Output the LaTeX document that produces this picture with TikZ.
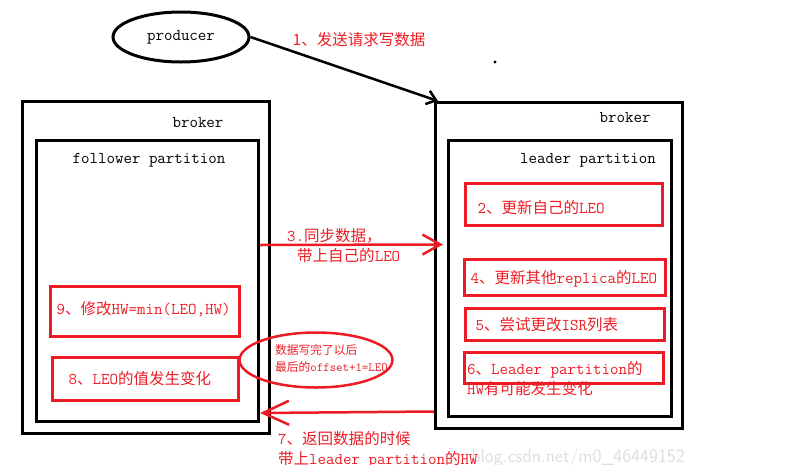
\documentclass[tikz,border=0pt]{standalone}
\usepackage{fontspec}
\newfontfamily\cjk[Scale=0.94]{Noto Sans CJK SC}
\usetikzlibrary{shapes.geometric,arrows.meta}
\definecolor{pred}{RGB}{237,28,36}
\newcommand{\zh}[1]{{\cjk #1}}
\tikzset{
	kuro/.style={draw, line width=3pt, inner sep=0pt},
	aka/.style={draw=pred, line width=3pt, inner sep=0pt},
	moji/.style={font=\ttfamily\fontsize{16.5}{20}\selectfont},
	akamoji/.style={moji, text=pred},
	yaji/.style={draw=pred, line width=2.5pt},
}

\begin{document}
\begin{tikzpicture}[x=1pt, y=-1pt]
\useasboundingbox (0, 0) rectangle (795, 464);
% 透かし
	\node[text=black!13, font=\sffamily\fontsize{19}{20}\selectfont, anchor=west] (wm) at (468, 458) {blog.csdn.net/m0\_46449152};
% producer
	\node[kuro, ellipse, moji, minimum width=136pt, minimum height=50pt] (prod) at (181, 37) {producer};
	\node[akamoji] (l1) at (359, 40) {\zh{1、发送请求写数据}};
	\fill (495, 62) circle (1.6pt);
% 左 broker
	\node[kuro, minimum width=247pt, minimum height=332pt, anchor=north west] (lbroker) at (21, 100) {};
	\node[moji] (lbname) at (198, 123) {broker};
	\node[kuro, minimum width=222pt, minimum height=281pt, anchor=north west] (lpart) at (35, 139) {};
	\node[moji] (lpname) at (149, 160) {follower partition};
	\node[aka, minimum width=189pt, minimum height=50pt, anchor=north west] (b9) at (49, 285) {};
	\node[akamoji, anchor=west] (t9) at ([xshift=4pt, yshift=2pt]b9.west) {9\zh{、修改}HW=min(LEO,HW)};
	\node[aka, minimum width=186pt, minimum height=43pt, anchor=north west] (b8) at (51, 356) {};
	\node[akamoji, anchor=west] (t8) at ([xshift=14pt]b8.west) {8\zh{、}LEO\zh{的值发生变化}};
% 右 broker
	\node[kuro, minimum width=247pt, minimum height=326pt, anchor=north west] (rbroker) at (434, 101) {};
	\node[moji] (rbname) at (625, 118) {broker};
	\node[kuro, minimum width=223pt, minimum height=276pt, anchor=north west] (rpart) at (447, 139) {};
	\node[moji] (rpname) at (588, 160) {leader partition};
	\node[aka, minimum width=197pt, minimum height=42pt, anchor=north west] (b2) at (464, 182) {};
	\node[akamoji, anchor=west] (t2) at ([xshift=10pt, yshift=-3pt]b2.west) {2\zh{、更新自己的}LEO};
	\node[aka, minimum width=201pt, minimum height=36pt, anchor=north west] (b4) at (463, 258) {};
	\node[akamoji, anchor=west] (t4) at ([xshift=4pt, yshift=-1pt]b4.west) {4\zh{、更新其他}replica\zh{的}LEO};
	\node[aka, minimum width=199pt, minimum height=32pt, anchor=north west] (b5) at (464, 307) {};
	\node[akamoji, anchor=west] (t5) at ([xshift=8pt]b5.west) {5\zh{、尝试更改}ISR\zh{列表}};
	\node[aka, minimum width=199pt, minimum height=31pt, anchor=north west] (b6) at (463, 351) {};
	\node[akamoji, anchor=north west, align=left, inner sep=0pt] (t6) at (467, 361) {6\zh{、}Leader partition\zh{的}\\HW\zh{有可能发生变化}};
% メモ
	\node[draw=pred, line width=2.5pt, ellipse, minimum width=153pt, minimum height=55pt] (memo) at (316, 360) {};
	\node[text=pred, font=\ttfamily\fontsize{12.5}{17}\selectfont, anchor=west, align=left, inner sep=0pt] (tmemo) at (275, 358) {\zh{数据写完了以后}\\\zh{最后的}offset+1=LEO};
% 矢印
	\draw[line width=2.5pt, -{Straight Barb[length=9pt, width=14pt]}] (prod.east) -- ([xshift=4pt]rbroker.north west);
	\draw[yaji, -{Straight Barb[length=18pt, width=20pt]}] ([yshift=36pt]lpart.east) -- ([yshift=34pt, xshift=-4pt]rpart.west);
	\node[akamoji, anchor=north west, align=left, inner sep=0pt] (l3) at (287, 228) {3.\zh{同步数据，}\\\hspace*{10pt}\zh{带上自己的}LEO};
	\draw[yaji, -{Straight Barb[length=26pt, width=24pt]}] ([yshift=-146pt]rbroker.west) -- ([yshift=-132pt]lpart.east);
	\node[akamoji, anchor=north west, align=left, inner sep=0pt] (l7) at (278, 431) {7\zh{、返回数据的时候}\\\zh{带上}leader partition\zh{的}HW};
\end{tikzpicture}
\end{document}
